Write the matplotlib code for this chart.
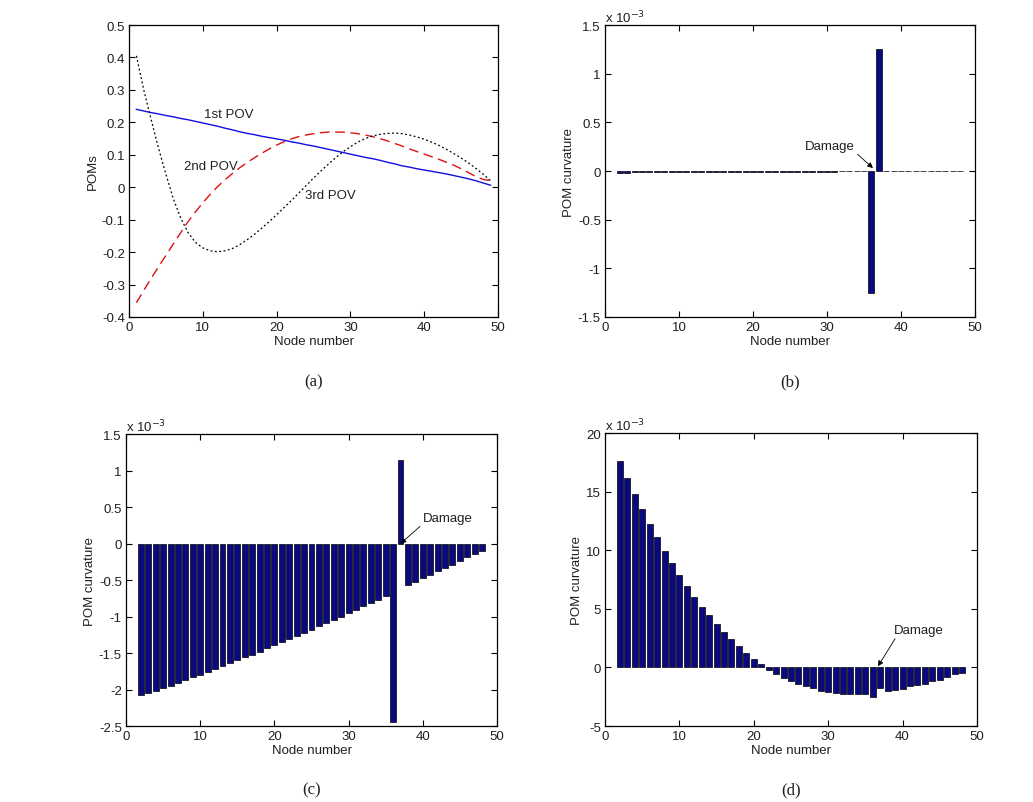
import numpy as np
import matplotlib
matplotlib.use('Agg')
import matplotlib.pyplot as plt
from matplotlib.ticker import FuncFormatter

plt.rcParams['font.family'] = ['Liberation Sans', 'DejaVu Sans']
plt.rcParams['axes.unicode_minus'] = False

# ---- data ----
nodes_a = np.arange(1, 50)
pov1 = [0.240, 0.235, 0.230, 0.226, 0.221, 0.217, 0.212, 0.208, 0.203, 0.198,
        0.193, 0.188, 0.182, 0.177, 0.171, 0.166, 0.162, 0.157, 0.153, 0.149,
        0.145, 0.140, 0.136, 0.131, 0.127, 0.122, 0.117, 0.112, 0.107, 0.102,
        0.097, 0.092, 0.088, 0.083, 0.077, 0.072, 0.066, 0.062, 0.057, 0.053,
        0.049, 0.045, 0.041, 0.036, 0.031, 0.026, 0.020, 0.013, 0.006]
pov2 = [-0.356, -0.318, -0.281, -0.245, -0.210, -0.175, -0.140, -0.106, -0.076, -0.048,
        -0.022, 0.002, 0.023, 0.042, 0.060, 0.076, 0.091, 0.105, 0.118, 0.130,
        0.140, 0.149, 0.156, 0.161, 0.165, 0.168, 0.170, 0.170, 0.170, 0.168,
        0.165, 0.161, 0.156, 0.150, 0.143, 0.135, 0.127, 0.118, 0.110, 0.102,
        0.094, 0.086, 0.077, 0.068, 0.057, 0.045, 0.033, 0.024, 0.020]
pov3 = [0.405, 0.300, 0.208, 0.120, 0.040, -0.035, -0.095, -0.140, -0.170, -0.187,
        -0.196, -0.199, -0.196, -0.189, -0.177, -0.162, -0.145, -0.126, -0.106, -0.085,
        -0.063, -0.041, -0.018, 0.005, 0.028, 0.050, 0.071, 0.091, 0.109, 0.125,
        0.139, 0.150, 0.158, 0.163, 0.166, 0.167, 0.165, 0.161, 0.155, 0.148,
        0.139, 0.129, 0.117, 0.104, 0.090, 0.075, 0.058, 0.040, 0.020]

nodes_bar = np.arange(2, 49)
# curvature values in units of 1e-3
curv_b = [-0.016, -0.016, -0.015, -0.015, -0.015, -0.014, -0.014, -0.014, -0.013, -0.013,
          -0.013, -0.012, -0.012, -0.010, -0.010, -0.010, -0.009, -0.009, -0.009, -0.008,
          -0.008, -0.008, -0.008, -0.007, -0.007, -0.007, -0.007, -0.006, -0.006, -0.006,
          -0.005, -0.002, -0.002, -0.002, -1.258, 1.255, -0.002, -0.002, -0.002, -0.002,
          -0.002, -0.002, -0.002, -0.002, -0.002, -0.002, -0.002]
curv_c = [-2.08, -2.05, -2.02, -1.98, -1.95, -1.91, -1.87, -1.83, -1.80, -1.76,
          -1.72, -1.68, -1.64, -1.60, -1.56, -1.52, -1.48, -1.43, -1.39, -1.35,
          -1.31, -1.26, -1.22, -1.18, -1.13, -1.09, -1.05, -1.00, -0.95, -0.91,
          -0.86, -0.82, -0.77, -0.72, -2.44, 1.15, -0.565, -0.52, -0.47, -0.43,
          -0.38, -0.33, -0.29, -0.24, -0.19, -0.14, -0.10]
curv_d = [17.6, 16.15, 14.79, 13.51, 12.23, 11.12, 9.93, 8.90, 7.88, 6.94,
          6.03, 5.15, 4.47, 3.67, 2.99, 2.42, 1.79, 1.22, 0.71, 0.26,
          -0.20, -0.58, -0.86, -1.14, -1.45, -1.59, -1.79, -1.99, -2.09, -2.14,
          -2.23, -2.24, -2.24, -2.24, -2.48, -1.76, -2.05, -1.91, -1.80, -1.62,
          -1.52, -1.38, -1.14, -1.05, -0.78, -0.58, -0.45]

bar_color = '#0a0a80'
text_color = '#202020'


def fmt(v, pos):
    return '%g' % (round(v, 6) + 0.0)


def style_axes(ax, ylim, yticks):
    ax.set_xlim(0, 50)
    ax.set_xticks([0, 10, 20, 30, 40, 50])
    ax.set_ylim(*ylim)
    ax.set_yticks(yticks)
    ax.yaxis.set_major_formatter(FuncFormatter(fmt))
    ax.tick_params(direction='in', top=True, right=True, length=4, width=0.8,
                   labelsize=9.5, labelcolor=text_color, pad=3)
    for s in ax.spines.values():
        s.set_linewidth(0.9)
    ax.set_xlabel('Node number', fontsize=9.5, color=text_color, labelpad=1)


fig = plt.figure(figsize=(10.33, 8.03), dpi=100)

# (a) POMs
ax1 = fig.add_axes([0.1249, 0.604, 0.3572, 0.3636])
ax1.plot(nodes_a, pov1, color='#1010e0', lw=1.0)
ax1.plot(nodes_a, pov2, color='#e01010', lw=1.0, dashes=(7, 4))
ax1.plot(nodes_a, pov3, color='k', lw=0.9, dashes=(1.5, 2))
style_axes(ax1, (-0.4, 0.5), np.arange(-0.4, 0.51, 0.1))
ax1.set_ylabel('POMs', fontsize=9.5, color=text_color, labelpad=2)
ax1.text(10.2, 0.227, '1st POV', fontsize=9.5, color=text_color, va='center')
ax1.text(7.4, 0.066, '2nd POV', fontsize=9.5, color=text_color, va='center')
ax1.text(23.8, -0.025, '3rd POV', fontsize=9.5, color=text_color, va='center')


def bar_panel(rect, vals, ylim, yticks, damage_txt, damage_tip, relpos):
    ax = fig.add_axes(rect)
    ax.bar(nodes_bar, vals, width=0.8, color=bar_color, edgecolor='k', linewidth=0.5)
    style_axes(ax, ylim, yticks)
    ax.set_ylabel('POM curvature', fontsize=9.5, color=text_color, labelpad=2)
    ax.text(0.0, 1.0, r'x 10$^{-3}$', transform=ax.transAxes, fontsize=9.5,
            color=text_color, ha='left', va='bottom')
    ax.annotate('Damage', xy=damage_tip, xytext=damage_txt, fontsize=9.5,
                color=text_color, va='center',
                arrowprops=dict(arrowstyle='-|>', color='k', lw=0.6,
                                mutation_scale=8, shrinkA=0, shrinkB=0,
                                relpos=relpos))
    return ax


# (b)
bar_panel([0.5857, 0.604, 0.3582, 0.3636], curv_b, (-1.5, 1.5),
          np.arange(-1.5, 1.51, 0.5), (27.0, 0.26), (36.2, 0.03), (1.0, 0.0))
# (c)
bar_panel([0.122, 0.0946, 0.3591, 0.3636], curv_c, (-2.5, 1.5),
          np.arange(-2.5, 1.51, 0.5), (40.0, 0.35), (37.0, 0.0), (0.0, 0.0))
# (d)
bar_panel([0.5857, 0.0946, 0.360, 0.3649], curv_d, (-5, 20),
          np.arange(-5, 20.1, 5), (38.9, 3.2), (36.7, 0.1), (0.05, 0.0))

# panel captions
for x, y, s in [(0.3035, 0.524, '(a)'), (0.765, 0.524, '(b)'),
                (0.3015, 0.016, '(c)'), (0.766, 0.016, '(d)')]:
    fig.text(x, y, s, fontsize=12, family=['Liberation Serif', 'DejaVu Serif'],
             color=text_color, ha='center', va='center')

fig.savefig('out.png', dpi=100)
